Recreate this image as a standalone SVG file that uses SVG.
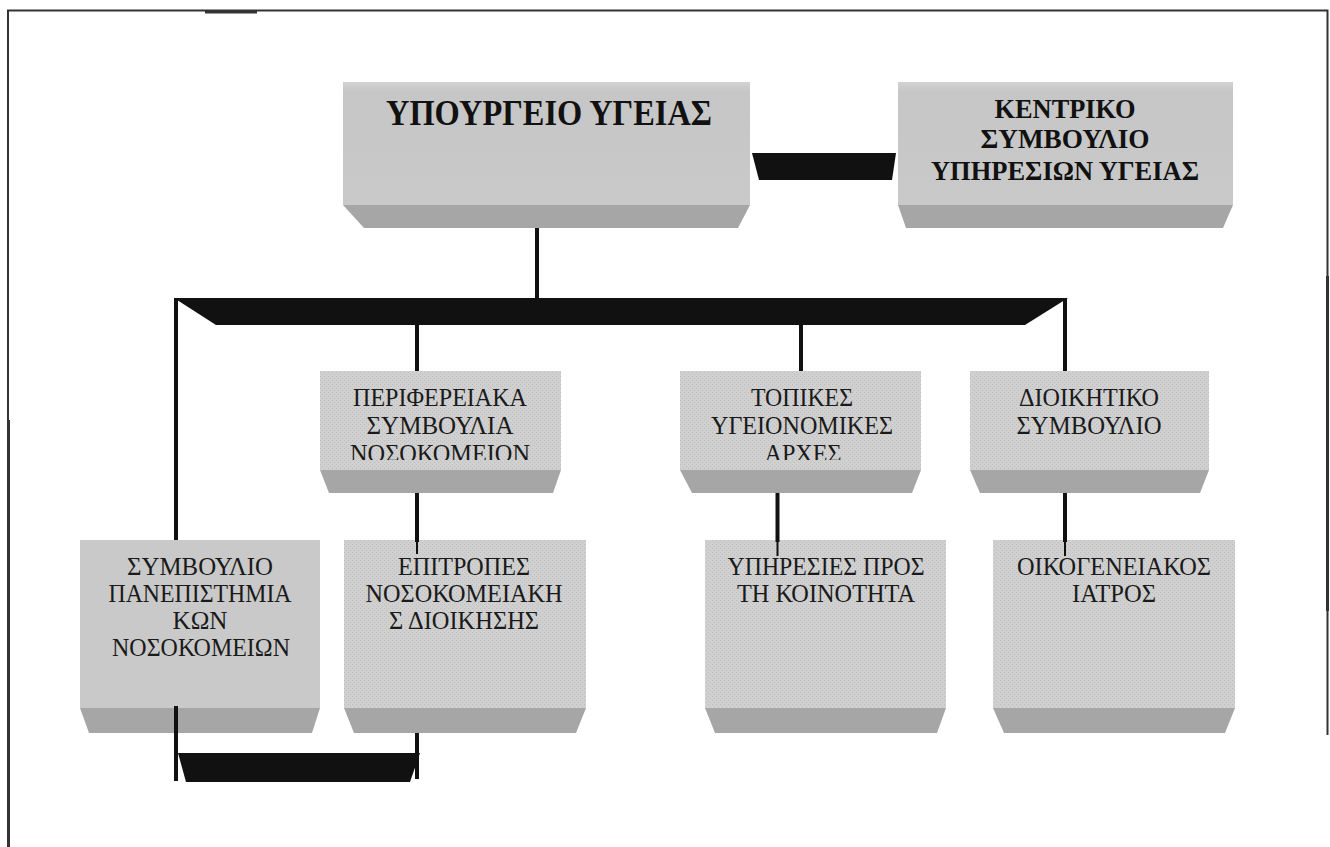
<svg xmlns="http://www.w3.org/2000/svg" width="1330" height="847" viewBox="0 0 1330 847">
  <style>
    .face-top { fill: #c8c8c8; }
    .face-plain { fill: #c9c9c9; }
    .face-dot { fill: url(#stipple); }
    .bevel { fill: #a6a6a6; }
    .lbl { font-family: "Liberation Serif", "Times New Roman", serif; font-size: 26px; fill: #1a1a1a; text-anchor: middle; }
    .lbl-b { font-family: "Liberation Serif", "Times New Roman", serif; font-size: 27px; font-weight: bold; fill: #111; text-anchor: middle; }
    .title { font-size: 35px; }
    .wire { stroke: #111; stroke-width: 4; fill: none; }
    .wire-thin { stroke: #111; stroke-width: 2; fill: none; }
    .bar { fill: #111; }
    .frame { stroke: #333; stroke-width: 2; fill: none; }
  </style>
  <defs>
    <pattern id="stipple" width="4" height="4" patternUnits="userSpaceOnUse">
      <rect width="4" height="4" fill="#d0d0d0"/>
      <rect x="0" y="0" width="1" height="1" fill="#bcbcbc"/>
      <rect x="2" y="2" width="1" height="1" fill="#bcbcbc"/>
    </pattern>
    <linearGradient id="topShade" x1="0" y1="0" x2="0" y2="1">
      <stop offset="0" stop-color="#d2d2d2"/>
      <stop offset="0.08" stop-color="#c6c6c6"/>
      <stop offset="1" stop-color="#c9c9c9"/>
    </linearGradient>
    <clipPath id="clipMid">
      <rect x="0" y="371" width="1330" height="89"/>
    </clipPath>
  </defs>

  <rect width="1330" height="847" fill="#ffffff"/>

  <!-- page frame -->
  <g id="frame">
    <path class="frame" d="M8 847 V10.5 H1327.5 V735"/>
    <line x1="205" y1="12" x2="257" y2="12" stroke="#333" stroke-width="3"/>
    <line x1="8.5" y1="420" x2="8.5" y2="847" stroke="#333" stroke-width="3"/>
    <line x1="1327.5" y1="276" x2="1327.5" y2="611" stroke="#333" stroke-width="3"/>
  </g>

  <!-- top row -->
  <g id="ministry">
    <rect x="343" y="82" width="407" height="123" fill="url(#topShade)"/>
    <polygon class="bevel" points="343,205 750,205 738,228 364,228"/>
    <text class="lbl-b title" x="549" y="125" textLength="326" lengthAdjust="spacingAndGlyphs">ΥΠΟΥΡΓΕΙΟ ΥΓΕΙΑΣ</text>
  </g>

  <g id="central-council">
    <rect x="898" y="82" width="335" height="123" fill="url(#topShade)"/>
    <polygon class="bevel" points="898,205 1233,205 1223,228 906,228"/>
    <text class="lbl-b" x="1065" y="118" textLength="141" lengthAdjust="spacingAndGlyphs">ΚΕΝΤΡΙΚΟ</text>
    <text class="lbl-b" x="1065" y="148" textLength="169" lengthAdjust="spacingAndGlyphs">ΣΥΜΒΟΥΛΙΟ</text>
    <text class="lbl-b" x="1065" y="180" textLength="268" lengthAdjust="spacingAndGlyphs">ΥΠΗΡΕΣΙΩΝ ΥΓΕΙΑΣ</text>
  </g>

  <!-- middle row -->
  <g id="regional-councils">
    <rect class="face-dot" x="320" y="371" width="241" height="99"/>
    <polygon class="bevel" points="320,470 561,470 553,493 329,493"/>
    <text class="lbl" x="440" y="406" textLength="174" lengthAdjust="spacingAndGlyphs">ΠΕΡΙΦΕΡΕΙΑΚΑ</text>
    <text class="lbl" x="440" y="434" textLength="147" lengthAdjust="spacingAndGlyphs">ΣΥΜΒΟΥΛΙΑ</text>
    <text class="lbl" x="440" y="462" textLength="180" lengthAdjust="spacingAndGlyphs" clip-path="url(#clipMid)">ΝΟΣΟΚΟΜΕΙΟΝ</text>
  </g>

  <g id="local-authorities">
    <rect class="face-dot" x="680" y="371" width="241" height="99"/>
    <polygon class="bevel" points="680,470 921,470 912,493 692,493"/>
    <text class="lbl" x="802" y="406" textLength="102" lengthAdjust="spacingAndGlyphs">ΤΟΠΙΚΕΣ</text>
    <text class="lbl" x="802" y="434" textLength="182" lengthAdjust="spacingAndGlyphs">ΥΓΕΙΟΝΟΜΙΚΕΣ</text>
    <text class="lbl" x="803" y="462" textLength="77" lengthAdjust="spacingAndGlyphs" clip-path="url(#clipMid)">ΑΡΧΕΣ</text>
  </g>

  <g id="admin-board">
    <rect class="face-dot" x="970" y="371" width="239" height="99"/>
    <polygon class="bevel" points="970,470 1209,470 1200,493 980,493"/>
    <text class="lbl" x="1089" y="406" textLength="140" lengthAdjust="spacingAndGlyphs">ΔΙΟΙΚΗΤΙΚΟ</text>
    <text class="lbl" x="1089" y="434" textLength="145" lengthAdjust="spacingAndGlyphs">ΣΥΜΒΟΥΛΙΟ</text>
  </g>

  <!-- bottom row -->
  <g id="university-council">
    <rect class="face-plain" x="80" y="540" width="240" height="168"/>
    <polygon class="bevel" points="80,708 320,708 312,733 89,733"/>
    <text class="lbl" x="200" y="575" textLength="146" lengthAdjust="spacingAndGlyphs">ΣΥΜΒΟΥΛΙΟ</text>
    <text class="lbl" x="200" y="602" textLength="183" lengthAdjust="spacingAndGlyphs">ΠΑΝΕΠΙΣΤΗΜΙΑ</text>
    <text class="lbl" x="200" y="629" textLength="55" lengthAdjust="spacingAndGlyphs">ΚΩΝ</text>
    <text class="lbl" x="201" y="656" textLength="178" lengthAdjust="spacingAndGlyphs">ΝΟΣΟΚΟΜΕΙΩΝ</text>
  </g>

  <g id="hospital-committees">
    <rect class="face-dot" x="344" y="540" width="242" height="168"/>
    <polygon class="bevel" points="344,708 586,708 576,733 354,733"/>
    <text class="lbl" x="464" y="575" textLength="132" lengthAdjust="spacingAndGlyphs">ΕΠΙΤΡΟΠΕΣ</text>
    <text class="lbl" x="464" y="602" textLength="197" lengthAdjust="spacingAndGlyphs">ΝΟΣΟΚΟΜΕΙΑΚΗ</text>
    <text class="lbl" x="464" y="629" textLength="150" lengthAdjust="spacingAndGlyphs">Σ ΔΙΟΙΚΗΣΗΣ</text>
  </g>

  <g id="community-services">
    <rect class="face-dot" x="705" y="540" width="241" height="168"/>
    <polygon class="bevel" points="705,708 946,708 937,733 715,733"/>
    <text class="lbl" x="826" y="575" textLength="197" lengthAdjust="spacingAndGlyphs">ΥΠΗΡΕΣΙΕΣ ΠΡΟΣ</text>
    <text class="lbl" x="826" y="602" textLength="178" lengthAdjust="spacingAndGlyphs">ΤΗ ΚΟΙΝΟΤΗΤΑ</text>
  </g>

  <g id="family-doctor">
    <rect class="face-dot" x="993" y="540" width="242" height="168"/>
    <polygon class="bevel" points="993,708 1235,708 1225,733 1004,733"/>
    <text class="lbl" x="1114" y="575" textLength="194" lengthAdjust="spacingAndGlyphs">ΟΙΚΟΓΕΝΕΙΑΚΟΣ</text>
    <text class="lbl" x="1114" y="602" textLength="84" lengthAdjust="spacingAndGlyphs">ΙΑΤΡΟΣ</text>
  </g>

  <!-- connectors -->
  <g id="connectors">
    <polygon class="bar" points="752,153 896,153 892,180 759,180"/>
    <line class="wire" x1="537" y1="228" x2="537" y2="300"/>
    <polygon class="bar" points="174,298 1068,298 1025,325 216,325"/>
    <line class="wire" x1="176" y1="298" x2="176" y2="540"/>
    <line class="wire" x1="1065" y1="298" x2="1065" y2="371"/>
    <line class="wire" x1="417" y1="323" x2="417" y2="371"/>
    <line class="wire" x1="801" y1="323" x2="801" y2="371"/>
    <line class="wire" x1="417" y1="493" x2="417" y2="542"/>
    <line class="wire-thin" x1="417" y1="540" x2="417" y2="554"/>
    <line class="wire" x1="777.5" y1="493" x2="777.5" y2="542"/>
    <line class="wire-thin" x1="777.5" y1="540" x2="777.5" y2="556"/>
    <line class="wire" x1="1065" y1="493" x2="1065" y2="542"/>
    <line class="wire-thin" x1="1065" y1="540" x2="1065" y2="556"/>
    <line class="wire" x1="176" y1="706" x2="176" y2="781"/>
    <line class="wire" x1="417" y1="733" x2="417" y2="779"/>
    <polygon class="bar" points="178,753 420,753 410,782 186,782"/>
  </g>
</svg>
